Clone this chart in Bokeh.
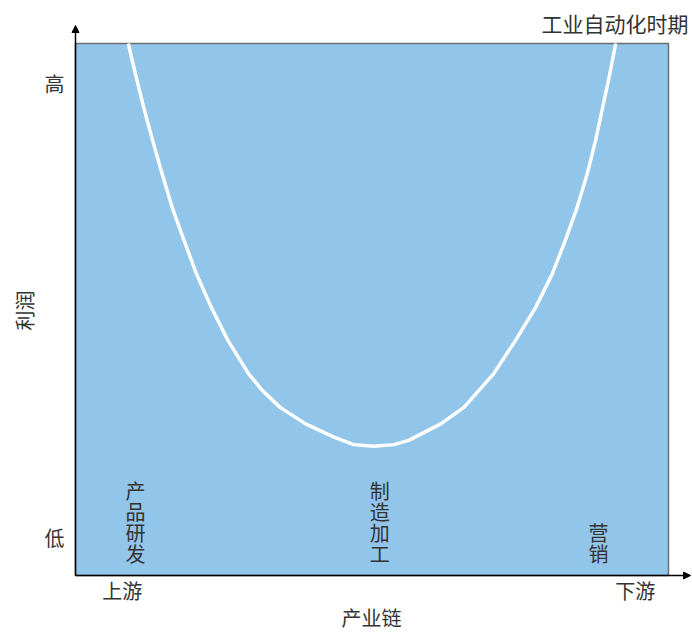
from bokeh.plotting import figure
from bokeh.models import Range1d, Arrow, NormalHead, Label, FixedTicker, ColumnDataSource
from bokeh.core.properties import value
from bokeh.embed import file_html
from bokeh.resources import INLINE

FONT = "Noto Sans CJK SC"
TXT = "#333333"

title_text = "工业自动化时期"
x_axis_title = "产业链"
y_axis_title = "利润"
x_tick_pos = [0.79, 9.44]
x_tick_labels = ["上游", "下游"]
y_tick_pos = [0.71, 9.25]
y_tick_labels = ["低", "高"]

curve_x = [0.89, 1.01, 1.15, 1.30, 1.46, 1.63, 1.83, 2.04, 2.29, 2.57, 2.92,
           3.15, 3.45, 3.88, 4.36, 4.69, 5.03, 5.37, 5.62, 6.16, 6.55, 7.05,
           7.42, 7.76, 8.04, 8.26, 8.46, 8.63, 8.77, 8.89, 9.01, 9.11]
curve_y = [10.0, 9.43, 8.80, 8.18, 7.55, 6.92, 6.30, 5.67, 5.04, 4.42, 3.79,
           3.48, 3.16, 2.85, 2.60, 2.46, 2.43, 2.46, 2.54, 2.85, 3.16, 3.79,
           4.42, 5.04, 5.67, 6.30, 6.92, 7.55, 8.18, 8.80, 9.43, 10.0]

stage_names = ["产\n品\n研\n发", "制\n造\n加\n工", "营\n销"]
stage_x = [1.01, 5.13, 8.82]
stage_y = [0.15, 0.15, 0.15]

# pixel scale: blue panel [0,10]x[0,10] -> 593 x 532 px
XU, YU = 59.3, 53.2
p = figure(width=692, height=635, output_backend="svg", toolbar_location=None,
           x_range=Range1d(-5 / XU, 617 / XU), y_range=Range1d(-5 / YU, 565 / YU),
           min_border_left=70, min_border_right=0, min_border_top=10, min_border_bottom=55)
p.background_fill_color = "white"
p.border_fill_color = "white"
p.outline_line_color = None
p.grid.visible = False

for ax, ticks, labels in [(p.xaxis[0], x_tick_pos, x_tick_labels), (p.yaxis[0], y_tick_pos, y_tick_labels)]:
    ax.ticker = FixedTicker(ticks=ticks)
    ax.major_label_overrides = {t: l for t, l in zip(ticks, labels)}
    ax.major_tick_line_color = None
    ax.minor_tick_line_color = None
    ax.axis_line_color = None
    ax.major_label_text_font = FONT
    ax.major_label_text_font_size = "20px"
    ax.major_label_text_color = TXT
    ax.axis_label_text_font = FONT
    ax.axis_label_text_font_size = "20px"
    ax.axis_label_text_font_style = "normal"
    ax.axis_label_text_color = TXT

# trailing wide spaces shift the centred axis titles onto the panel centre
p.xaxis.axis_label = x_axis_title + "\u2002\u2002"
p.yaxis.axis_label = y_axis_title + "\u3000\u2002"
p.xaxis.major_label_standoff = -11
p.xaxis.axis_label_standoff = -5
p.yaxis.major_label_standoff = 0
p.yaxis.axis_label_standoff = 3
p.yaxis.major_label_orientation = "horizontal"

p.quad(left=[0], right=[10], bottom=[0], top=[10], fill_color="#91c5e9",
       line_color="#6e6e6e", line_width=1.5)

p.line(curve_x, curve_y, line_color="white", line_width=3.5, line_join="round")

src = ColumnDataSource(dict(x=stage_x, y=stage_y, t=stage_names))
p.text(x="x", y="y", text="t", source=src, text_font=value(FONT), text_font_size="20px",
       text_color=TXT, text_align="center", text_baseline="bottom", text_line_height=0.72)

p.add_layout(Arrow(end=NormalHead(size=7, fill_color="black", line_color="black"),
                   x_start=0, y_start=0, x_end=0, y_end=550 / YU, line_width=1.5, line_color="black"))
p.add_layout(Arrow(end=NormalHead(size=7, fill_color="black", line_color="black"),
                   x_start=0, y_start=0, x_end=615 / XU, y_end=0, line_width=1.5, line_color="black"))

p.add_layout(Label(x=613 / XU, y=553 / YU, text=title_text, text_font=FONT, text_font_size="21px",
                   text_color=TXT, text_align="right", text_baseline="middle"))

open("out.html", "w").write(file_html(p, INLINE))
